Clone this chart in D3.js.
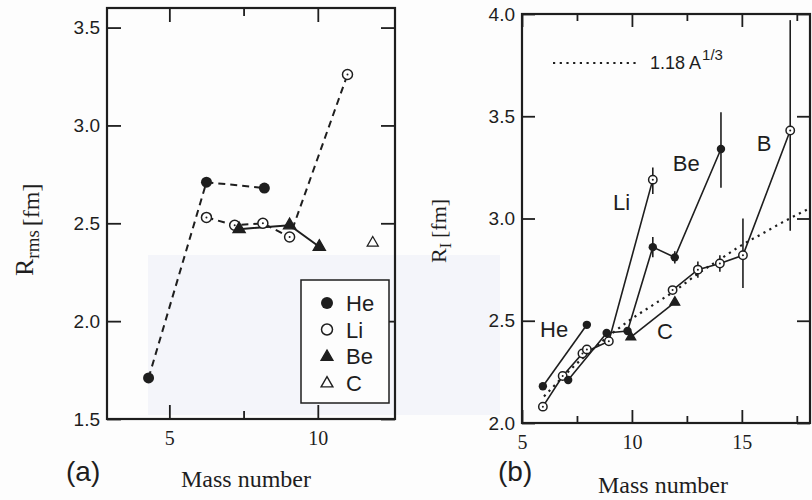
<!DOCTYPE html>
<html>
<head>
<meta charset="utf-8">
<script src="https://cdn.jsdelivr.net/npm/d3@7"></script>
<style>
  body { margin: 0; background: #fff; }
  svg { display: block; }
</style>
</head>
<body>
<div id="chart"></div>
<script>
// ---- panel (a): R_rms vs mass number ----
const heA = [[4.3, 1.71], [6.25, 2.71], [8.2, 2.68]];
const liA = [[6.25, 2.53], [7.2, 2.49], [8.15, 2.50], [9.05, 2.43], [11.0, 3.26]];
const beA = [[7.35, 2.47], [9.05, 2.49], [10.05, 2.38]];
const cA  = [[11.85, 2.40]];
const legendA = ["He", "Li", "Be", "C"];
const xTicksA = [5, 10], xMinorA = [7.5];
const yTicksA = [1.5, 2.0, 2.5, 3.0, 3.5];

// ---- panel (b): R_I vs mass number ----
const heB = [[5.95, 2.18], [7.95, 2.48]];
const liB = [[5.95, 2.08], [6.85, 2.23], [7.75, 2.34], [8.95, 2.40], [10.95, 3.19]];
const beB = [[7.1, 2.21], [8.85, 2.44], [9.8, 2.45], [10.95, 2.86], [11.95, 2.81], [14.05, 3.34]];
const b8B = [[7.95, 2.36]];
const bB  = [[11.85, 2.65], [13.0, 2.75], [14.0, 2.78], [15.05, 2.82], [17.2, 3.43]];
const cB  = [[9.95, 2.42], [11.95, 2.59]];
// error bars: [A, low, high]
const errB = [[10.95, 3.12, 3.25], [10.95, 2.81, 2.91], [11.95, 2.78, 2.84], [14.05, 3.15, 3.52],
              [13.0, 2.71, 2.79], [14.0, 2.74, 2.82], [15.05, 2.66, 3.00], [17.2, 2.94, 3.97]];
// dotted 1.18 A^1/3 curve
const fitA = [6, 7, 8, 9, 10, 11, 12, 13, 14, 15, 16, 17, 18.1];
const fitR = [2.13, 2.24, 2.34, 2.43, 2.51, 2.58, 2.65, 2.73, 2.80, 2.87, 2.93, 2.99, 3.05];
const xTicksB = [5, 10, 15], xMinorB = [7.5, 12.5, 17.5];
const yTicksB = [2.0, 2.5, 3.0, 3.5, 4.0];

const W = 812, H = 500;
const INK = "#1e1e1e";
const SANS = "'Liberation Sans', Arial, sans-serif";
const SERIF = "'Liberation Serif', 'Times New Roman', serif";

const svg = d3.select("#chart").append("svg")
  .attr("width", W).attr("height", H);

svg.append("rect").attr("width", W).attr("height", H).attr("fill", "#fdfdfd");
// faint scan tint
svg.append("rect").attr("x", 148).attr("y", 255).attr("width", 352).attr("height", 160)
  .attr("fill", "#eef0f9").attr("opacity", 0.6);

// ---------- scales ----------
const xa = d3.scaleLinear().domain([2.9, 12.6]).range([107, 395]);
const ya = d3.scaleLinear().domain([1.5, 3.6]).range([419, 8]);
const xb = d3.scaleLinear().domain([5, 18.1]).range([522, 810]);
const yb = d3.scaleLinear().domain([2.0, 4.0]).range([423, 14]);

function styleAxis(g, family, size) {
  g.select(".domain").remove();
  g.selectAll("line").attr("stroke", INK).attr("stroke-width", 1.8);
  g.selectAll("text").attr("fill", INK).attr("font-family", family).attr("font-size", size);
}

function frame(x, y, xt, xm, yt, major, minor) {
  const [x0, x1] = x.range(), [y0, y1] = y.range();
  // bottom (labels) and top
  svg.append("g").attr("transform", `translate(0,${y0})`)
    .call(d3.axisBottom(x).tickValues(xt).tickSizeInner(-major).tickSizeOuter(0).tickPadding(12).tickFormat(d3.format("d")))
    .call(g => styleAxis(g, SERIF, 20));
  svg.append("g").attr("transform", `translate(0,${y0})`)
    .call(d3.axisBottom(x).tickValues(xm).tickSizeInner(-minor).tickSizeOuter(0).tickFormat(""))
    .call(g => styleAxis(g, SERIF, 20));
  svg.append("g").attr("transform", `translate(0,${y1})`)
    .call(d3.axisTop(x).tickValues(xt).tickSizeInner(-major).tickSizeOuter(0).tickFormat(""))
    .call(g => styleAxis(g, SERIF, 20));
  svg.append("g").attr("transform", `translate(0,${y1})`)
    .call(d3.axisTop(x).tickValues(xm).tickSizeInner(-minor).tickSizeOuter(0).tickFormat(""))
    .call(g => styleAxis(g, SERIF, 20));
  // left (labels) and right
  svg.append("g").attr("transform", `translate(${x0},0)`)
    .call(d3.axisLeft(y).tickValues(yt).tickSizeInner(-major).tickSizeOuter(0).tickPadding(7).tickFormat(d3.format(".1f")))
    .call(g => styleAxis(g, SANS, 19));
  svg.append("g").attr("transform", `translate(${x1},0)`)
    .call(d3.axisRight(y).tickValues(yt).tickSizeInner(-major).tickSizeOuter(0).tickFormat(""))
    .call(g => styleAxis(g, SANS, 19));
  svg.append("rect")
    .attr("x", x0).attr("y", y1).attr("width", x1 - x0).attr("height", y0 - y1)
    .attr("fill", "none").attr("stroke", INK).attr("stroke-width", 2.2);
}

frame(xa, ya, xTicksA, xMinorA, yTicksA, 14, 8);
frame(xb, yb, xTicksB, xMinorB, yTicksB, 13, 7);

// ---------- helpers ----------
function line(g, data, x, y, opts) {
  g.append("path")
    .datum(data)
    .attr("d", d3.line().x(d => x(d[0])).y(d => y(d[1])).curve(opts.curve || d3.curveLinear))
    .attr("fill", "none")
    .attr("stroke", INK)
    .attr("stroke-width", opts.width || 1.6)
    .attr("stroke-dasharray", opts.dash || null);
}

function markers(g, data, x, y, kind, size) {
  data.forEach(d => {
    const cx = x(d[0]), cy = y(d[1]);
    if (kind === "dot") {
      g.append("circle").attr("cx", cx).attr("cy", cy).attr("r", size).attr("fill", INK);
    } else if (kind === "open") {
      g.append("circle").attr("cx", cx).attr("cy", cy).attr("r", size)
        .attr("fill", "#fff").attr("stroke", INK).attr("stroke-width", 1.5);
      g.append("circle").attr("cx", cx).attr("cy", cy).attr("r", 1).attr("fill", INK);
    } else {
      g.append("path")
        .attr("d", d3.symbol(d3.symbolTriangle, size * size * 2.6)())
        .attr("transform", `translate(${cx},${cy})`)
        .attr("fill", kind === "tri" ? INK : "#fff")
        .attr("stroke", INK).attr("stroke-width", 1.3);
    }
  });
}

// ---------- panel (a) marks ----------
const ga = svg.append("g");
line(ga, heA, xa, ya, { dash: "7,5", width: 2 });
line(ga, liA, xa, ya, { dash: "7,5", width: 2 });
line(ga, beA, xa, ya, { width: 2 });
markers(ga, liA, xa, ya, "open", 5);
markers(ga, beA, xa, ya, "tri", 5);
markers(ga, heA, xa, ya, "dot", 5.5);
markers(ga, cA, xa, ya, "otri", 4.5);

// legend (a)
const lg = svg.append("g");
lg.append("rect").attr("x", 301).attr("y", 280).attr("width", 88).attr("height", 123)
  .attr("fill", "#fdfdfd").attr("stroke", INK).attr("stroke-width", 1.5);
const legKinds = ["dot", "open", "tri", "otri"];
legendA.forEach((name, i) => {
  const cy = 303 + i * 26.5;
  const k = legKinds[i];
  if (k === "dot") lg.append("circle").attr("cx", 327).attr("cy", cy).attr("r", 6).attr("fill", INK);
  else if (k === "open") lg.append("circle").attr("cx", 327).attr("cy", cy).attr("r", 5.5)
    .attr("fill", "none").attr("stroke", INK).attr("stroke-width", 1.5);
  else lg.append("path").attr("d", d3.symbol(d3.symbolTriangle, 60)())
    .attr("transform", `translate(327,${cy + 1})`)
    .attr("fill", k === "tri" ? INK : "none").attr("stroke", INK).attr("stroke-width", 1.4);
  lg.append("text").attr("x", 346).attr("y", cy + 8)
    .attr("font-family", SANS).attr("font-size", 22).attr("fill", INK).text(name);
});

// axis titles (a)
svg.append("text").attr("x", 246).attr("y", 487).attr("text-anchor", "middle")
  .attr("font-family", SERIF).attr("font-size", 24).attr("fill", INK).text("Mass number");
svg.append("text").attr("x", 66).attr("y", 481)
  .attr("font-family", SANS).attr("font-size", 28).attr("fill", INK).text("(a)");
const ta = svg.append("text").attr("transform", "translate(33,276) rotate(-90)")
  .attr("font-family", SERIF).attr("font-size", 26).attr("fill", INK);
ta.append("tspan").text("R");
ta.append("tspan").attr("font-size", 19).attr("dy", 6).text("rms");
ta.append("tspan").attr("font-size", 24).attr("dx", 4).text("[fm]");

// ---------- panel (b) marks ----------
const gb = svg.append("g");
line(gb, fitA.map((a, i) => [a, fitR[i]]), xb, yb, { dash: "2.2,4.5", width: 2.2, curve: d3.curveMonotoneX });
errB.forEach(e => {
  gb.append("line").attr("x1", xb(e[0])).attr("x2", xb(e[0]))
    .attr("y1", yb(e[1])).attr("y2", yb(e[2]))
    .attr("stroke", INK).attr("stroke-width", 1.6);
});
line(gb, heB, xb, yb, { width: 1.6 });
line(gb, liB, xb, yb, { width: 1.6 });
line(gb, beB, xb, yb, { width: 1.6 });
line(gb, bB, xb, yb, { width: 1.6 });
line(gb, cB, xb, yb, { width: 1.6 });
markers(gb, liB, xb, yb, "open", 4.2);
markers(gb, b8B, xb, yb, "open", 4.2);
markers(gb, bB, xb, yb, "open", 4.2);
markers(gb, heB, xb, yb, "dot", 4.2);
markers(gb, beB, xb, yb, "dot", 4.2);
markers(gb, cB, xb, yb, "tri", 4);

// element labels (b), placed in data units
const tagsB = [["He", 5.82, 2.42], ["Li", 9.14, 3.04], ["Be", 11.86, 3.23], ["B", 15.68, 3.33], ["C", 11.14, 2.41]];
tagsB.forEach(t => {
  svg.append("text").attr("x", xb(t[1])).attr("y", yb(t[2]))
    .attr("font-family", SANS).attr("font-size", 22).attr("fill", INK).text(t[0]);
});

// legend (b)
svg.append("line").attr("x1", 553).attr("x2", 640).attr("y1", 63).attr("y2", 63)
  .attr("stroke", INK).attr("stroke-width", 2.2).attr("stroke-dasharray", "2.2,4.5");
const fl = svg.append("text").attr("x", 650).attr("y", 69)
  .attr("font-family", SANS).attr("font-size", 18).attr("fill", INK);
fl.append("tspan").text("1.18 A");
fl.append("tspan").attr("font-size", 15).attr("dy", -9).attr("dx", 1).text("1/3");

// axis titles (b)
svg.append("text").attr("x", 663).attr("y", 493).attr("text-anchor", "middle")
  .attr("font-family", SERIF).attr("font-size", 24).attr("fill", INK).text("Mass number");
svg.append("text").attr("x", 498).attr("y", 481)
  .attr("font-family", SANS).attr("font-size", 28).attr("fill", INK).text("(b)");
const tb = svg.append("text").attr("transform", "translate(446,263) rotate(-90)")
  .attr("font-family", SERIF).attr("font-size", 22).attr("fill", INK);
tb.append("tspan").text("R");
tb.append("tspan").attr("font-size", 16).attr("dy", 5).text("I");
tb.append("tspan").attr("font-size", 22).attr("dy", -5).attr("dx", 5).text("[fm]");
</script>
</body>
</html>
